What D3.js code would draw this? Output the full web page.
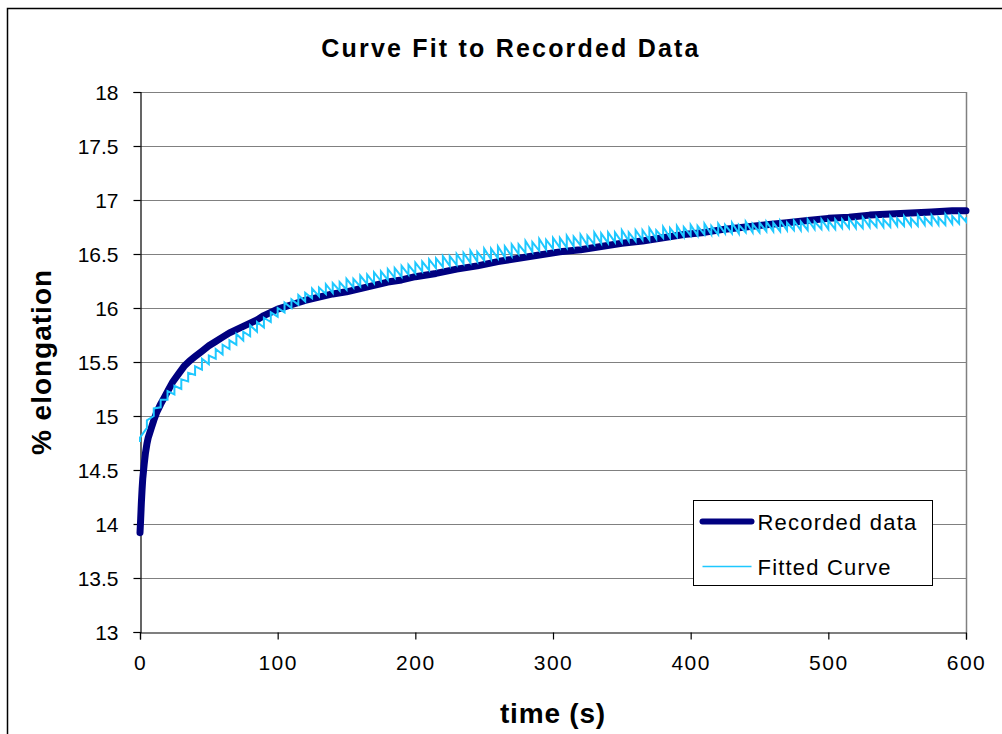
<!DOCTYPE html>
<html>
<head>
<meta charset="utf-8">
<script src="https://cdn.jsdelivr.net/npm/d3@7"></script>
<style>
  html, body { margin: 0; padding: 0; background: #fff; }
  svg { display: block; font-family: "Liberation Sans", Arial, sans-serif; }
</style>
</head>
<body>
<div id="chart"></div>
<script>
// Recorded data (navy, thick)
const recTime = [0, 0.5, 1, 1.5, 2, 3, 4, 5, 6, 8, 10, 12, 15, 18, 21, 24, 28, 32, 36, 40,
  45, 50, 55, 60, 65, 70, 75, 80, 85, 90, 95, 100, 110, 120, 130, 140, 150, 160, 170, 180,
  190, 200, 215, 230, 245, 260, 275, 290, 305, 320, 335, 350, 365, 380, 395, 410, 425, 440,
  455, 470, 485, 500, 515, 530, 545, 560, 575, 590, 600];
const recValue = [13.92, 14.05, 14.2, 14.32, 14.42, 14.55, 14.66, 14.74, 14.8, 14.88, 14.96, 15.03, 15.11, 15.18, 15.25, 15.32, 15.39, 15.46, 15.51, 15.55,
  15.6, 15.65, 15.69, 15.73, 15.77, 15.8, 15.83, 15.86, 15.89, 15.93, 15.96, 15.99, 16.03, 16.07, 16.1, 16.13, 16.15, 16.18, 16.21, 16.24,
  16.26, 16.29, 16.32, 16.36, 16.39, 16.43, 16.46, 16.49, 16.52, 16.54, 16.57, 16.6, 16.62, 16.65, 16.68, 16.7, 16.73, 16.75,
  16.77, 16.79, 16.81, 16.83, 16.84, 16.86, 16.87, 16.88, 16.89, 16.9, 16.9];

// Fitted curve (cyan, thin sawtooth): each time has a bottom and a top of its tooth
const fitTime = [0, 5, 10, 15, 20, 25, 30, 35, 40, 45, 50, 55, 60, 65, 70, 75, 80, 85, 90, 95,
  100, 105, 110, 115, 120, 125, 130, 135, 140, 145, 150, 155, 160, 165, 170, 175, 180, 185, 190, 195,
  200, 205, 210, 215, 220, 225, 230, 235, 240, 245, 250, 255, 260, 265, 270, 275, 280, 285, 290, 295,
  300, 305, 310, 315, 320, 325, 330, 335, 340, 345, 350, 355, 360, 365, 370, 375, 380, 385, 390, 395,
  400, 405, 410, 415, 420, 425, 430, 435, 440, 445, 450, 455, 460, 465, 470, 475, 480, 485, 490, 495,
  500, 505, 510, 515, 520, 525, 530, 535, 540, 545, 550, 555, 560, 565, 570, 575, 580, 585, 590, 595, 600];
const fitBottom = [14.76, 14.89, 15.0, 15.08, 15.15, 15.2, 15.25, 15.32, 15.38, 15.43, 15.48, 15.53, 15.57, 15.62, 15.66, 15.7, 15.74, 15.78, 15.82, 15.87,
  15.92, 15.96, 16.0, 16.03, 16.06, 16.09, 16.11, 16.13, 16.14, 16.16, 16.17, 16.19, 16.2, 16.22, 16.23, 16.25, 16.26, 16.28, 16.29, 16.31,
  16.32, 16.34, 16.35, 16.37, 16.38, 16.39, 16.4, 16.41, 16.42, 16.43, 16.44, 16.45, 16.46, 16.47, 16.48, 16.5, 16.51, 16.52, 16.53, 16.54,
  16.55, 16.56, 16.56, 16.57, 16.58, 16.58, 16.59, 16.6, 16.6, 16.61, 16.61, 16.62, 16.62, 16.63, 16.63, 16.64, 16.65, 16.65, 16.66, 16.66,
  16.67, 16.67, 16.68, 16.68, 16.68, 16.69, 16.69, 16.69, 16.7, 16.7, 16.7, 16.71, 16.71, 16.71, 16.72, 16.72, 16.72, 16.72, 16.73, 16.73,
  16.73, 16.73, 16.74, 16.74, 16.74, 16.74, 16.75, 16.75, 16.75, 16.75, 16.76, 16.76, 16.76, 16.76, 16.77, 16.77, 16.77, 16.77, 16.78, 16.78, 16.8];
const fitTop = [14.8, 14.96, 15.07, 15.15, 15.23, 15.28, 15.34, 15.4, 15.46, 15.53, 15.56, 15.62, 15.66, 15.7, 15.76, 15.78, 15.84, 15.87, 15.91, 15.96,
  16.0, 16.05, 16.08, 16.12, 16.14, 16.18, 16.19, 16.22, 16.23, 16.24, 16.27, 16.27, 16.3, 16.31, 16.33, 16.34, 16.36, 16.37, 16.39, 16.4,
  16.42, 16.43, 16.45, 16.46, 16.48, 16.48, 16.5, 16.51, 16.53, 16.52, 16.55, 16.55, 16.57, 16.57, 16.59, 16.59, 16.62, 16.61, 16.64, 16.63,
  16.65, 16.65, 16.67, 16.66, 16.68, 16.67, 16.7, 16.69, 16.7, 16.7, 16.72, 16.7, 16.72, 16.72, 16.74, 16.72, 16.75, 16.74, 16.76, 16.75,
  16.77, 16.76, 16.78, 16.76, 16.78, 16.77, 16.79, 16.77, 16.8, 16.78, 16.79, 16.8, 16.79, 16.81, 16.79, 16.81, 16.8, 16.82, 16.8, 16.82,
  16.81, 16.82, 16.82, 16.83, 16.81, 16.84, 16.82, 16.84, 16.82, 16.85, 16.83, 16.85, 16.83, 16.86, 16.84, 16.86, 16.84, 16.87, 16.85, 16.87, 16.84];

const yTicks = [13, 13.5, 14, 14.5, 15, 15.5, 16, 16.5, 17, 17.5, 18];
const xTicks = [0, 100, 200, 300, 400, 500, 600];
const seriesNames = ["Recorded data", "Fitted Curve"];
const seriesColors = ["#000080", "#1ec8ff"];

const W = 1002, H = 734;
const plot = { left: 140, right: 966, top: 92, bottom: 632 };

const svg = d3.select("#chart").append("svg")
  .attr("width", W)
  .attr("height", H);

// chart area border (runs off the right and bottom)
svg.append("rect")
  .attr("x", 7.5).attr("y", 8.5)
  .attr("width", 1100).attr("height", 1000)
  .attr("fill", "#fff")
  .attr("stroke", "#000")
  .attr("stroke-width", 1.5);

const x = d3.scaleLinear().domain([0, 600]).range([plot.left, plot.right]);
const y = d3.scaleLinear().domain([13, 18]).range([plot.bottom, plot.top]);

// gridlines
svg.append("g")
  .selectAll("line")
  .data(yTicks.filter(d => d > 13))
  .enter().append("line")
  .attr("x1", plot.left).attr("x2", plot.right)
  .attr("y1", d => Math.round(y(d)) + 0.5)
  .attr("y2", d => Math.round(y(d)) + 0.5)
  .attr("stroke", "#808080")
  .attr("stroke-width", 1.2);

// right border of plot area
svg.append("line")
  .attr("x1", plot.right + 0.5).attr("x2", plot.right + 0.5)
  .attr("y1", plot.top).attr("y2", plot.bottom)
  .attr("stroke", "#808080")
  .attr("stroke-width", 1.5);

// axes
const yAxis = svg.append("g")
  .attr("transform", `translate(${plot.left + 0.5},0)`)
  .call(d3.axisLeft(y).tickValues(yTicks).tickSize(7).tickPadding(15).tickFormat(d3.format("~g")));
const xAxis = svg.append("g")
  .attr("transform", `translate(0,${plot.bottom + 0.5})`)
  .call(d3.axisBottom(x).tickValues(xTicks).tickSize(7).tickPadding(14));

[yAxis, xAxis].forEach(a => {
  a.select(".domain").attr("stroke", "#000").attr("stroke-width", 1.2);
  a.selectAll(".tick line").attr("stroke", "#000").attr("stroke-width", 1.2);
  a.selectAll(".tick text")
    .attr("fill", "#000")
    .style("font-family", "'Liberation Sans', Arial, sans-serif")
    .style("font-size", "21px");
});
yAxis.selectAll(".tick text").attr("dy", "0.36em");
xAxis.selectAll(".tick text").attr("dy", "0.8em").style("letter-spacing", "1.5px");

// series
const recData = recTime.map((t, i) => [t, recValue[i]]);
const fitData = [];
fitTime.forEach((t, i) => {
  fitData.push([t, fitBottom[i]]);
  fitData.push([t, fitTop[i]]);
});

const line = d3.line().x(d => x(d[0])).y(d => y(d[1]));

svg.append("path")
  .datum(recData)
  .attr("d", line)
  .attr("fill", "none")
  .attr("stroke", seriesColors[0])
  .attr("stroke-width", 7)
  .attr("stroke-linecap", "round")
  .attr("stroke-linejoin", "round");

svg.append("path")
  .datum(fitData)
  .attr("d", line)
  .attr("fill", "none")
  .attr("stroke", seriesColors[1])
  .attr("stroke-width", 2);

// title
svg.append("text")
  .attr("x", 511).attr("y", 57)
  .attr("text-anchor", "middle")
  .style("font-size", "25px")
  .style("font-weight", "bold")
  .style("letter-spacing", "2.2px")
  .text("Curve Fit to Recorded Data");

// axis titles
svg.append("text")
  .attr("x", 553).attr("y", 723)
  .attr("text-anchor", "middle")
  .style("font-size", "28px")
  .style("font-weight", "bold")
  .style("letter-spacing", "0.8px")
  .text("time (s)");

svg.append("text")
  .attr("transform", "translate(51,362) rotate(-90)")
  .attr("text-anchor", "middle")
  .style("font-size", "28px")
  .style("font-weight", "bold")
  .style("letter-spacing", "1px")
  .text("% elongation");

// legend
const legend = svg.append("g").attr("transform", "translate(693.5,500.5)");
legend.append("rect")
  .attr("width", 239).attr("height", 85)
  .attr("fill", "#fff")
  .attr("stroke", "#000")
  .attr("stroke-width", 1);

seriesNames.forEach((name, i) => {
  const ly = 21 + i * 45;
  legend.append("line")
    .attr("x1", 9).attr("x2", 58)
    .attr("y1", ly).attr("y2", ly)
    .attr("stroke", seriesColors[i])
    .attr("stroke-width", i === 0 ? 6 : 1.5)
    .attr("stroke-linecap", i === 0 ? "round" : "butt");
  legend.append("text")
    .attr("x", 64).attr("y", ly + 8)
    .style("font-size", "22px")
    .style("letter-spacing", "1.2px")
    .text(name);
});
</script>
</body>
</html>
